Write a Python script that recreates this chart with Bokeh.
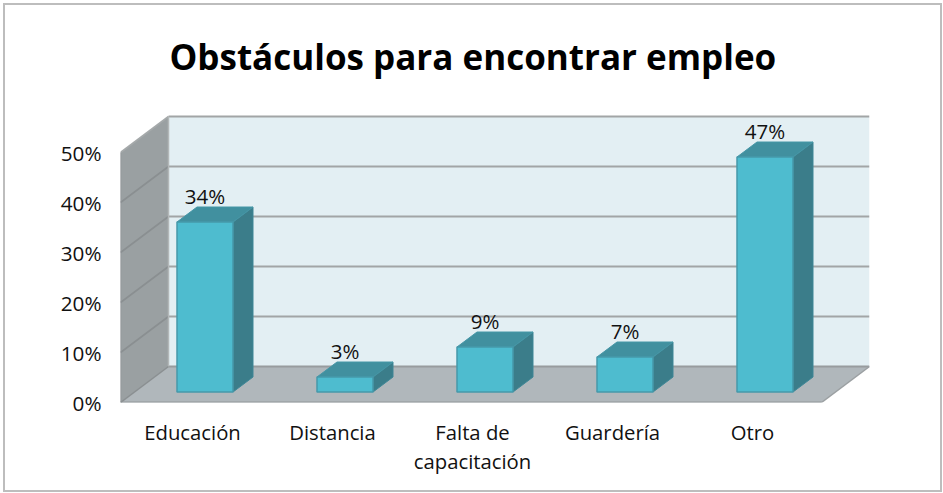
from bokeh.plotting import figure
from bokeh.models import FixedTicker, Range1d, ColumnDataSource, LinearAxis
from bokeh.core.properties import value
from bokeh.embed import file_html
from bokeh.resources import INLINE

TITLE = "Obstáculos para encontrar empleo"
categories = ["Educación", "Distancia", "Falta de\ncapacitación", "Guardería", "Otro"]
values = [34, 3, 9, 7, 47]
y_ticks = [0, 10, 20, 30, 40, 50]
FONT = "Open Sans"

# oblique projection, in data units (1 x unit = one category, 1 y unit = 1 %)
PX_X, PX_Y = 140.0, 5.0
DX, DY = 48 / PX_X, 36 / PX_Y           # floor depth
BDX, BDY = 20 / PX_X, 15 / PX_Y         # bar depth
BASE_X, BASE_Y = 12.5 / PX_X, 10.5 / PX_Y # bar base inset from floor's front edge
HALF = 28 / PX_X
XL, XR = (120 - 192) / PX_X, (821 - 192) / PX_X
TOP = 50

p = figure(width=935, height=485, output_backend="svg", toolbar_location=None,
           frame_width=749, frame_height=302, min_border_left=115, min_border_top=95,
           min_border_right=71, min_border_bottom=88,
           x_range=Range1d(XL, XL + 749 / PX_X), y_range=Range1d(0, 302 / PX_Y),
           background_fill_color="white", border_fill_color="white",
           styles={"position": "absolute", "left": "5px", "top": "5px",
                   "outline": "2px solid #bdbdbd"})
p.outline_line_color = None
p.grid.visible = False

p.title.text = TITLE
p.title.text_font = FONT
p.title.text_font_size = "35px"
p.title.text_font_style = "bold"
p.title.text_color = "#000000"
p.title.align = "left"
p.title.offset = 49
p.title.standoff = 42

# a second axis below carries wrapped second lines, for their tighter line spacing
wrapped = {i: c.split("\n")[1] for i, c in enumerate(categories) if "\n" in c}
x2 = LinearAxis(ticker=FixedTicker(ticks=list(wrapped)), major_label_overrides=wrapped)
p.add_layout(x2, "below")

for ax in (p.xaxis[0], p.yaxis[0], x2):
    ax.axis_line_color = None
    ax.major_tick_line_color = None
    ax.minor_tick_line_color = None
    ax.major_label_text_font = FONT
    ax.major_label_text_color = "#111111"
    ax.major_label_text_font_size = "20.3px"
p.yaxis[0].major_label_text_font_size = "20.7px"
p.yaxis[0].ticker = FixedTicker(ticks=y_ticks)
p.yaxis[0].major_label_overrides = {t: f"{t}%" for t in y_ticks}
p.yaxis[0].major_label_standoff = 13
p.xaxis[0].ticker = FixedTicker(ticks=list(range(len(categories))))
p.xaxis[0].major_label_overrides = {i: c.split("\n")[0] for i, c in enumerate(categories)}
p.xaxis[0].major_label_standoff = 9
x2.major_label_standoff = -8

# back wall, side wall, floor
p.patch([XL + DX, XR + DX, XR + DX, XL + DX], [DY, DY, TOP + DY, TOP + DY], color="#e3eff3", line_width=0)
p.patch([XL, XL + DX, XL + DX, XL], [0, DY, TOP + DY, TOP], color="#9aa0a2", line_width=0)
p.patch([XL, XR, XR + DX, XL + DX], [0, 0, DY, DY], color="#b0b7bb", line_width=0)

# gridlines
for t in y_ticks:
    p.line([XL + DX, XR + DX], [t + DY, t + DY], line_color="#a2a5a6" if t else "#989c9e", line_width=2.2)
    if t:
        p.line([XL, XL + DX], [t, t + DY], line_color="#8a8f91" if t < TOP else "#a5a9aa", line_width=1.6)
p.line([XL + DX, XL + DX], [DY, TOP + DY], line_color="#b3b7b8", line_width=1.5)
p.line([XL, XR], [0, 0], line_color="#92979a", line_width=2)
p.line([XR, XR + DX], [0, DY], line_color="#9ba0a2", line_width=1.5)
p.line([XL, XL + DX], [0, DY], line_color="#8a8f91", line_width=1.5)
p.line([XL, XL], [0, TOP], line_color="#8f9496", line_width=1.5)

# bars
for i, v in enumerate(values):
    x0 = i + BASE_X - HALF
    x1 = i + BASE_X + HALF
    b = BASE_Y
    t = BASE_Y + v
    edge = "#4699aa"
    p.patch([x1, x1 + BDX, x1 + BDX, x1], [b, b + BDY, t + BDY, t], fill_color="#3b7d8a", line_color="#3f8796", line_width=1)
    p.patch([x0, x1, x1 + BDX, x0 + BDX], [t, t, t + BDY, t + BDY], fill_color="#41909f", line_color="#4596a6", line_width=1)
    p.patch([x0, x1, x1, x0], [b, b, t, t], fill_color="#4ebccf", line_color=edge, line_width=1.5)

src = ColumnDataSource(dict(
    x=[i + BASE_X for i in range(len(values))],
    y=[BASE_Y + v + BDY + 2.3 for v in values],
    t=[f"{v}%" for v in values]))
p.text("x", "y", text="t", source=src, text_align="center", text_baseline="middle",
       text_font=value(FONT), text_font_size="20.5px", text_color="#111111")

open("out.html", "w").write(file_html(p, INLINE))
